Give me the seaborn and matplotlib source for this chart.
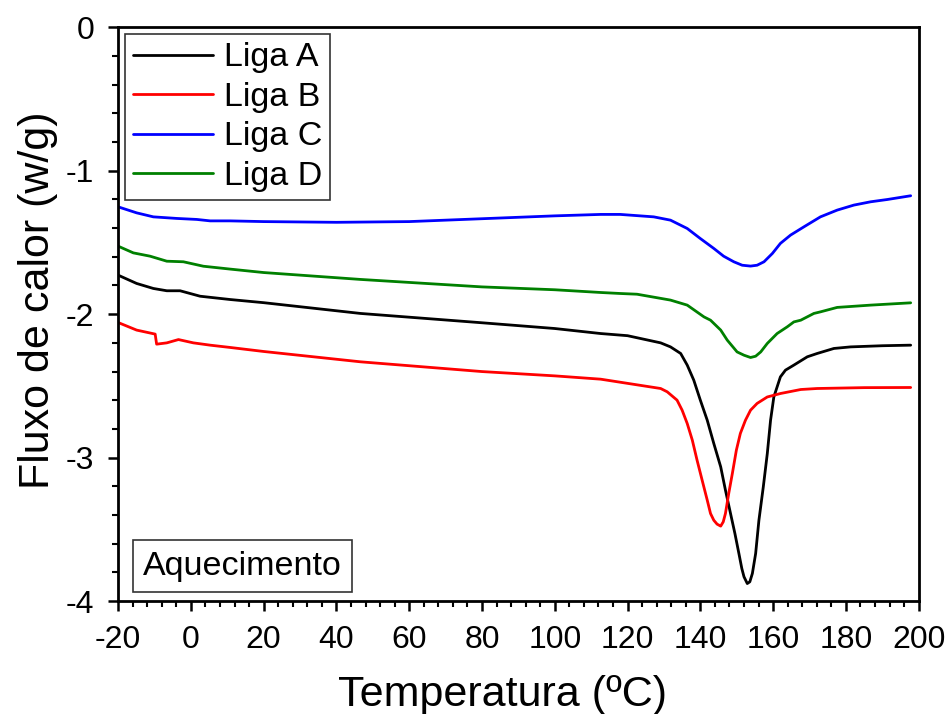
import numpy as np
import pandas as pd
import matplotlib
matplotlib.use("Agg")
import matplotlib.pyplot as plt
import seaborn as sns
from matplotlib.ticker import MultipleLocator

# ---- data ----
series_names = ["Liga A", "Liga B", "Liga C", "Liga D"]
series_colors = ["#000000", "#ff0000", "#0000ff", "#008000"]

temp_a = [-20, -14.9, -10.3, -6.6, -2.95, 2.55, 10.8, 20, 46.6, 80, 100, 112.6, 120, 129.1,
          131.8, 134.6, 136.4, 138.2, 140.0, 141.9, 143.7, 145.6, 146.9, 148.3, 149.5, 150.6,
          151.4, 152.0, 152.9, 153.6, 154.3, 155.2, 156.1, 157.3, 158.4, 159.3, 160.2, 162.0,
          163.4, 165.7, 169.4, 172.1, 176.7, 181.3, 190, 197.8]
flux_a = [-1.728, -1.786, -1.821, -1.837, -1.837, -1.875, -1.898, -1.92, -1.995, -2.06, -2.10, -2.135, -2.15, -2.20,
          -2.228, -2.274, -2.355, -2.46, -2.599, -2.739, -2.901, -3.064, -3.226, -3.389, -3.528, -3.668,
          -3.772, -3.83, -3.877, -3.865, -3.807, -3.668, -3.436, -3.204, -2.972, -2.739, -2.577, -2.437,
          -2.39, -2.355, -2.297, -2.274, -2.239, -2.228, -2.22, -2.216]

temp_b = [-20, -14.9, -9.8, -9.4, -6.6, -3.4, 0.7, 5.3, 10.8, 20, 46.6, 80, 100, 112.6, 129.1,
          130.9, 133.6, 135.0, 136.4, 137.8, 139.1, 140.5, 141.9, 142.8, 143.7, 144.6, 145.6,
          146.3, 146.9, 147.8, 148.8, 149.9, 151.0, 152.4, 153.8, 155.6, 158.4, 162.0, 163.0,
          167.6, 172.1, 185, 197.8]
flux_b = [-2.058, -2.111, -2.139, -2.209, -2.20, -2.177, -2.20, -2.216, -2.232, -2.26, -2.332, -2.40, -2.43, -2.453, -2.518,
          -2.541, -2.599, -2.669, -2.762, -2.878, -3.017, -3.157, -3.296, -3.389, -3.436, -3.463, -3.477,
          -3.447, -3.389, -3.25, -3.110, -2.948, -2.831, -2.739, -2.669, -2.622, -2.577, -2.553, -2.548,
          -2.525, -2.518, -2.512, -2.511]

temp_c = [-20, -14.9, -10.3, -3.86, 1.64, 5.3, 10.8, 20, 40, 60, 80, 100, 112.6, 118, 127.2,
          131.8, 136.4, 140.0, 143.7, 146.4, 149.2, 151.5, 153.8, 155.6, 157.5, 159.8, 162.0,
          164.8, 168.5, 173.0, 177.6, 182.2, 186.8, 191.4, 197.8]
flux_c = [-1.252, -1.294, -1.322, -1.333, -1.34, -1.35, -1.35, -1.355, -1.36, -1.355, -1.335, -1.315, -1.305, -1.305, -1.322,
          -1.345, -1.403, -1.473, -1.542, -1.596, -1.635, -1.659, -1.665, -1.659, -1.635, -1.577, -1.507,
          -1.449, -1.391, -1.322, -1.275, -1.240, -1.217, -1.201, -1.175]

temp_d = [-20, -15.8, -11.2, -6.6, -2.05, 3.45, 10.8, 20, 46.6, 80, 100, 112.6, 118, 122.6,
          131.8, 136.4, 141.0, 142.8, 145.6, 147.4, 150.1, 152.0, 153.8, 155.2, 156.6, 158.4,
          161.1, 163.9, 165.7, 167.6, 171.2, 173.0, 177.6, 186.8, 197.8]
flux_d = [-1.526, -1.573, -1.596, -1.631, -1.635, -1.666, -1.686, -1.71, -1.758, -1.81, -1.83, -1.849, -1.856, -1.861,
          -1.902, -1.937, -2.019, -2.042, -2.111, -2.181, -2.263, -2.286, -2.302, -2.293, -2.263, -2.204,
          -2.135, -2.088, -2.054, -2.042, -1.995, -1.984, -1.953, -1.937, -1.921]

x_major_ticks = [-20, 0, 20, 40, 60, 80, 100, 120, 140, 160, 180, 200]
y_major_ticks = [0, -1, -2, -3, -4]

frames = []
for name, t, f in zip(series_names, [temp_a, temp_b, temp_c, temp_d], [flux_a, flux_b, flux_c, flux_d]):
    frames.append(pd.DataFrame({"Temperatura": t, "Fluxo": f, "Liga": name}))
df = pd.concat(frames, ignore_index=True)

sns.set_theme(style="ticks")
plt.rcParams['font.family'] = ['Liberation Sans', 'DejaVu Sans']
plt.rcParams['axes.unicode_minus'] = False
plt.rcParams['text.color'] = 'black'
plt.rcParams['axes.labelcolor'] = 'black'

fig = plt.figure(figsize=(9.52, 7.14), dpi=100)
ax = fig.add_axes([0.124, 0.158, 0.841, 0.804])

sns.lineplot(data=df, x="Temperatura", y="Fluxo", hue="Liga", hue_order=series_names,
             palette=dict(zip(series_names, series_colors)), linewidth=2.0, sort=False,
             estimator=None, ax=ax)

ax.set_xlim(-20, 200)
ax.set_ylim(-4, 0)
ax.set_xticks(x_major_ticks)
ax.set_yticks(y_major_ticks)
ax.set_xticklabels([str(v) for v in x_major_ticks])
ax.set_yticklabels([str(v) for v in y_major_ticks])
ax.xaxis.set_minor_locator(MultipleLocator(4))
ax.yaxis.set_minor_locator(MultipleLocator(0.2))
ax.tick_params(axis="both", which="major", direction="out", length=7, width=1.8,
               labelsize=23, colors="black", top=False, right=False)
ax.tick_params(axis="both", which="minor", direction="out", length=4.5, width=1.5,
               colors="black", top=False, right=False)
ax.tick_params(axis="x", pad=10)
ax.tick_params(axis="y", pad=10)
for s in ax.spines.values():
    s.set_visible(True)
    s.set_linewidth(2.0)
    s.set_color("black")

ax.set_xlabel("Temperatura (ºC)", fontsize=31, color="black")
ax.set_ylabel("Fluxo de calor (w/g)", fontsize=31, color="black")
ax.xaxis.set_label_coords(0.48, -0.128)
ax.yaxis.set_label_coords(-0.075, 0.524)

leg = ax.legend(loc="upper left", fontsize=24.5, frameon=True, fancybox=False,
                edgecolor="#333333", framealpha=1, handlelength=2.35, handletextpad=0.3,
                borderpad=0.25, labelspacing=0.25, borderaxespad=0.2, title=None)
leg.get_frame().set_linewidth(1.2)
for line in leg.get_lines():
    line.set_linewidth(2.0)

ax.text(0.031, 0.061, "Aquecimento", transform=ax.transAxes, fontsize=24.5,
        ha="left", va="center",
        bbox=dict(boxstyle="square,pad=0.3", facecolor="white", edgecolor="#333333", linewidth=1.2))

fig.savefig("out.png", dpi=100)
